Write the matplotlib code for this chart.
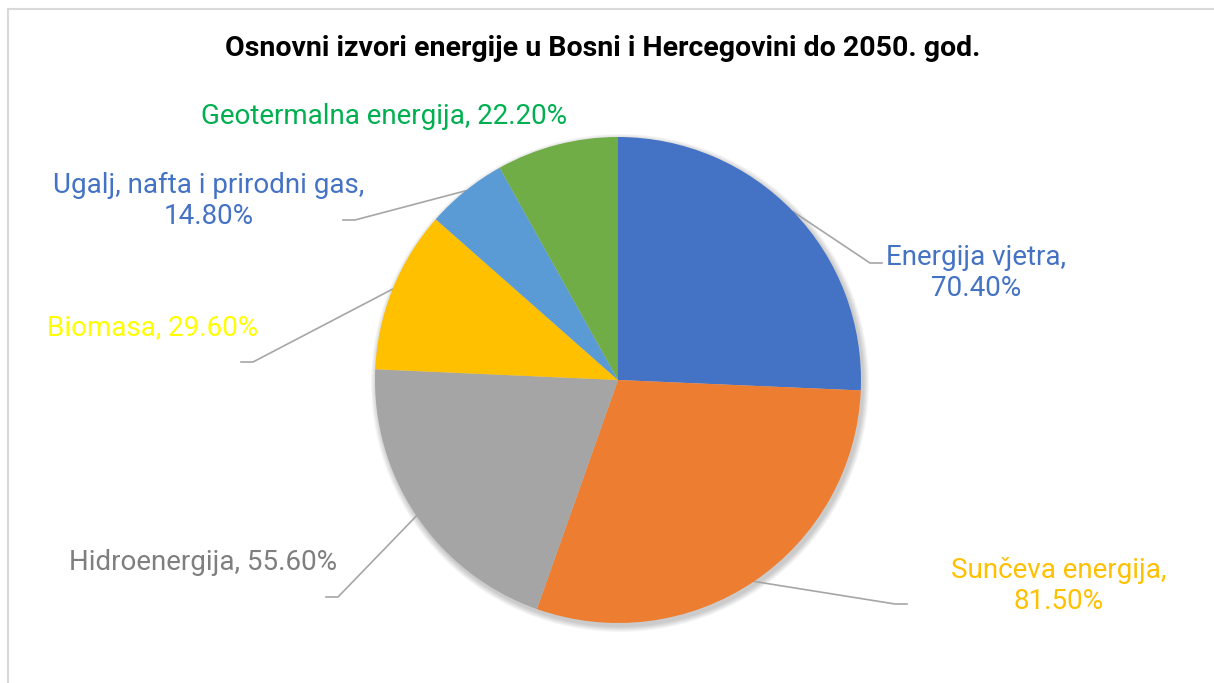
import numpy as np
import matplotlib
matplotlib.use("Agg")
import matplotlib.pyplot as plt
from matplotlib.patches import Rectangle, Circle

plt.rcParams['font.family'] = ['Roboto', 'DejaVu Sans']

labels = ["Energija vjetra", "Sunčeva energija", "Hidroenergija", "Biomasa",
          "Ugalj, nafta i prirodni gas", "Geotermalna energija"]
values = [70.4, 81.5, 55.6, 29.6, 14.8, 22.2]
colors = ["#4472C4", "#ED7D31", "#A5A5A5", "#FFC000", "#5B9BD5", "#70AD47"]
label_colors = ["#4472C4", "#FFC000", "#7F7F7F", "#FFFF00", "#4472C4", "#00B050"]
# label text (with line breaks as in the original)
label_texts = ["Energija vjetra,\n70.40%", "Sunčeva energija,\n81.50%",
               "Hidroenergija, 55.60%", "Biomasa, 29.60%",
               "Ugalj, nafta i prirodni gas,\n14.80%",
               "Geotermalna energija, 22.20%"]

W, H = 1214, 683
fig = plt.figure(figsize=(W / 100, H / 100), dpi=100)

# chart frame
fig.patches.append(Rectangle((8 / W, -0.1), 1.2, 1 - 9 / H + 0.1, transform=fig.transFigure,
                             fill=False, edgecolor="#D9D9D9", linewidth=1.5))

ax = fig.add_axes([0, 0, 1, 1])

cx, cy, r = 618, H - 380, 243

# soft shadow behind the pie
for k in range(6):
    ax.add_patch(Circle((cx + 2, cy - 3), r + 1 + k, color="black",
                        alpha=0.035, linewidth=0, zorder=0.2))

wedges, _ = ax.pie(values, colors=colors, startangle=90, counterclock=False,
                   radius=r, center=(cx, cy), frame=True,
                   wedgeprops=dict(linewidth=0, zorder=1))
ax.set_xlim(0, W)
ax.set_ylim(0, H)
ax.set_aspect("equal")
ax.axis("off")

# label positions (pixel, from top) and leader line elbows
text_pos = [(976, 273), (1059, 586), (203, 562), (153, 328), (209, 201), (384, 117)]
elbows = [((870, 263), (882, 263)), ((895, 604), (907, 604)),
          ((338, 597), (326, 597)), ((253, 362), (241, 362)),
          ((355, 220), (343, 220)), None]

for w, txt, col, pos, el in zip(wedges, label_texts, label_colors, text_pos, elbows):
    ang = np.deg2rad((w.theta1 + w.theta2) / 2)
    ex = cx + r * np.cos(ang)
    ey = cy + r * np.sin(ang)
    if el is not None:
        ax.plot([ex, el[0][0], el[1][0]], [ey, H - el[0][1], H - el[1][1]],
                color="#A6A6A6", linewidth=1.2, zorder=0.5)
    ax.text(pos[0], H - pos[1], txt, color=col, fontsize=20, ha="center", va="center",
            linespacing=1.2)

ax.text(603, H - 48, "Osnovni izvori energije u Bosni i Hercegovini do 2050. god.",
        fontsize=20.5, fontweight="bold", ha="center", va="center", color="black")

fig.savefig("out.png", dpi=100)
